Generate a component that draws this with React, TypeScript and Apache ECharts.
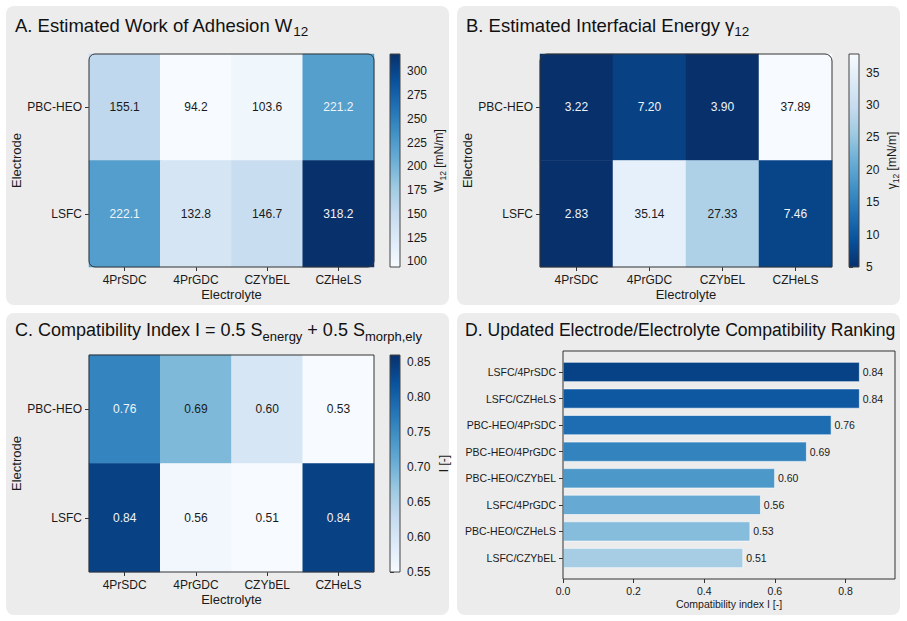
import React, { useEffect, useRef } from 'react';
import * as echarts from 'echarts';

const electrolytes = ['4PrSDC', '4PrGDC', 'CZYbEL', 'CZHeLS'];
const electrodes = ['PBC-HEO', 'LSFC'];
const workAdhesion = [
  [155.1, 94.2, 103.6, 221.2],
  [222.1, 132.8, 146.7, 318.2],
];
const interfacialEnergy = [
  [3.22, 7.2, 3.9, 37.89],
  [2.83, 35.14, 27.33, 7.46],
];
const compatIndex = [
  [0.76, 0.69, 0.6, 0.53],
  [0.84, 0.56, 0.51, 0.84],
];
const rankingPairs = [
  'LSFC/4PrSDC', 'LSFC/CZHeLS', 'PBC-HEO/4PrSDC', 'PBC-HEO/4PrGDC',
  'PBC-HEO/CZYbEL', 'LSFC/4PrGDC', 'PBC-HEO/CZHeLS', 'LSFC/CZYbEL',
];
const rankingValues = [0.84, 0.84, 0.76, 0.69, 0.6, 0.56, 0.53, 0.51];
const workTicks = [100, 125, 150, 175, 200, 225, 250, 275, 300];
const energyTicks = [5, 10, 15, 20, 25, 30, 35];
const indexTicks = [0.55, 0.6, 0.65, 0.7, 0.75, 0.8, 0.85];
const rankingTicks = [0, 0.2, 0.4, 0.6, 0.8];
const workRange = [94.2, 318.2];
const energyRange = [5, 37.89];
const indexRange = [0.55, 0.86];
const rankingMax = 0.94;

const BLUES = ['#f7fbff', '#deebf7', '#c6dbef', '#9ecae1', '#6baed6', '#4292c6', '#2171b5', '#08519c', '#08306b'];
const FONT = '"Liberation Sans", Arial, Helvetica, sans-serif';
const TXT = '#1a1a1a';

function hexToRgb(h: string) {
  const n = parseInt(h.slice(1), 16);
  return [(n >> 16) & 255, (n >> 8) & 255, n & 255];
}
function blues(t: number) {
  t = Math.max(0, Math.min(1, t));
  const p = t * 8;
  const i = Math.min(7, Math.floor(p));
  const f = p - i;
  const a = hexToRgb(BLUES[i]);
  const b = hexToRgb(BLUES[i + 1]);
  const c = a.map((v, k) => Math.round(v + (b[k] - v) * f));
  return `rgb(${c[0]},${c[1]},${c[2]})`;
}

function cells(matrix: number[][], range: number[], reverse: boolean) {
  const out: any[] = [];
  matrix.forEach((row, yi) =>
    row.forEach((v, xi) => {
      let t = (v - range[0]) / (range[1] - range[0]);
      if (reverse) t = 1 - t;
      out.push({ value: [xi, yi, v], label: { color: t > 0.55 ? '#f0f4f8' : TXT } });
    })
  );
  return out;
}

function titleRich(main: number, sub: number) {
  return {
    m: { fontSize: main, lineHeight: 26, color: '#111', fontFamily: FONT, fontWeight: 'normal' },
    s: { fontSize: sub, lineHeight: 14, verticalAlign: 'bottom', color: '#111', fontFamily: FONT, fontWeight: 'normal' },
  };
}
const nameRich = {
  m: { fontSize: 12, lineHeight: 16, color: TXT, fontFamily: FONT },
  s: { fontSize: 8.5, lineHeight: 10, verticalAlign: 'bottom', color: TXT, fontFamily: FONT },
};

const HEAT = [
  { left: 89, top: 54, width: 285, height: 213 },
  { left: 540, top: 54, width: 292, height: 213 },
  { left: 89, top: 355, width: 285, height: 217 },
];
const CBAR = [
  { left: 390, top: 54, width: 10, height: 213 },
  { left: 849, top: 54, width: 10, height: 213 },
  { left: 390, top: 355, width: 10, height: 217 },
];
const BARGRID = { left: 563, top: 358.7, width: 332, height: 212.6 };
const BARFRAME = { x: 563, y: 351, width: 332, height: 228 };

function heatX(i: number) {
  return {
    type: 'category', gridIndex: i, data: electrolytes,
    axisLine: { show: false },
    axisTick: { show: true, alignWithLabel: true, length: 4, lineStyle: { color: '#333' } },
    axisLabel: { fontSize: 12, color: TXT, margin: 7, fontFamily: FONT },
    name: 'Electrolyte', nameLocation: 'middle', nameGap: 21,
    nameTextStyle: { fontSize: 13, color: TXT, fontFamily: FONT },
    splitLine: { show: false },
  };
}
function heatY(i: number) {
  return {
    type: 'category', gridIndex: i, data: electrodes, inverse: true,
    axisLine: { show: false },
    axisTick: { show: true, alignWithLabel: true, length: 4, lineStyle: { color: '#333' } },
    axisLabel: { fontSize: 12, color: TXT, margin: 7, fontFamily: FONT },
    name: 'Electrode', nameLocation: 'middle', nameGap: 56, nameRotate: 90,
    nameTextStyle: { fontSize: 13, color: TXT, fontFamily: FONT },
    splitLine: { show: false },
  };
}
function cbX(i: number) {
  return { type: 'value', gridIndex: i, show: false, min: 0, max: 1 };
}
function cbY(i: number, range: number[], ticks: number[], name: string, digits: number, gap: number) {
  return {
    type: 'value', gridIndex: i, position: 'right', min: range[0], max: range[1],
    axisLine: { show: false },
    axisTick: { show: true, length: 4, customValues: ticks, lineStyle: { color: '#333' } },
    axisLabel: {
      fontSize: 12, color: TXT, margin: 7, fontFamily: FONT, customValues: ticks,
      formatter: (v: number) => v.toFixed(digits),
    },
    splitLine: { show: false },
    name, nameLocation: 'middle', nameGap: gap, nameRotate: 90,
    nameTextStyle: { fontSize: 12, color: TXT, fontFamily: FONT, rich: nameRich },
  };
}

function heatSeries(i: number, matrix: number[][], range: number[], reverse: boolean, digits: number) {
  return {
    type: 'heatmap', xAxisIndex: i, yAxisIndex: i,
    data: cells(matrix, range, reverse),
    label: {
      show: true, fontSize: 12, fontFamily: FONT,
      formatter: (p: any) => (p.value[2] as number).toFixed(digits),
    },
    emphasis: { disabled: true },
  };
}

function gradRect(g: any, reverse: boolean) {
  const stops = BLUES.map((c, k) => ({ offset: k / 8, color: c }));
  return {
    type: 'rect', z: 50,
    shape: { x: g.left, y: g.top, width: g.width, height: g.height },
    style: {
      fill: {
        type: 'linear', x: 0, y: reverse ? 0 : 1, x2: 0, y2: reverse ? 1 : 0,
        colorStops: stops,
      },
      stroke: '#444', lineWidth: 1,
    },
  };
}

export default function App() {
  const ref = useRef<HTMLDivElement>(null);
  useEffect(() => {
    document.body.style.margin = '0';
    const chart = echarts.init(ref.current!, undefined, { renderer: 'svg' });
    const n = rankingValues.length;
    const tStyle = (main: number, sub: number) => ({ fontWeight: 'normal', fontFamily: FONT, rich: titleRich(main, sub) });
    const option: any = {
      animation: false,
      backgroundColor: '#ffffff',
      textStyle: { fontFamily: FONT, color: TXT },
      title: [
        { text: '{m|A. Estimated Work of Adhesion W}{s|12}', left: 15, top: 12.5, padding: 0, textStyle: tStyle(18.5, 13.5) },
        { text: '{m|B. Estimated Interfacial Energy γ}{s|12}', left: 466, top: 12.5, padding: 0, textStyle: tStyle(18.5, 13.5) },
        { text: '{m|C. Compatibility Index I = 0.5 S}{s|energy}{m| + 0.5 S}{s|morph,ely}', left: 15, top: 316.5, padding: 0, textStyle: tStyle(18, 13) },
        { text: '{m|D. Updated Electrode/Electrolyte Compatibility Ranking}', left: 465, top: 317, padding: 0, textStyle: tStyle(17.6, 12) },
      ],
      grid: [...HEAT, ...CBAR, BARGRID].map((g) => ({ ...g, containLabel: false, show: false })),
      xAxis: [
        heatX(0), heatX(1), heatX(2),
        cbX(3), cbX(4), cbX(5),
        {
          type: 'value', gridIndex: 6, min: 0, max: rankingMax, offset: 7.7,
          axisLine: { show: false },
          axisTick: { show: true, length: 4, customValues: rankingTicks, lineStyle: { color: '#333' } },
          axisLabel: {
            fontSize: 10.5, color: TXT, margin: 6, fontFamily: FONT, customValues: rankingTicks,
            formatter: (v: number) => v.toFixed(1),
          },
          splitLine: { show: false },
          name: 'Compatibility index I [-]', nameLocation: 'middle', nameGap: 19,
          nameTextStyle: { fontSize: 10.5, color: TXT, fontFamily: FONT },
        },
      ],
      yAxis: [
        heatY(0), heatY(1), heatY(2),
        cbY(3, workRange, workTicks, '{m|W}{s|12}{m| [mN/m]}', 0, 31),
        cbY(4, energyRange, energyTicks, '{m|γ}{s|12}{m| [mN/m]}', 0, 25),
        cbY(5, indexRange, indexTicks, '{m|I [-]}', 2, 36),
        {
          type: 'category', gridIndex: 6, data: rankingPairs, inverse: true,
          axisLine: { show: false },
          axisTick: { show: true, alignWithLabel: true, length: 4, lineStyle: { color: '#333' } },
          axisLabel: { fontSize: 10.5, color: TXT, margin: 7, fontFamily: FONT },
          splitLine: { show: false },
        },
      ],
      visualMap: [
        { type: 'continuous', show: false, seriesIndex: 0, dimension: 2, min: workRange[0], max: workRange[1], inRange: { color: BLUES } },
        { type: 'continuous', show: false, seriesIndex: 1, dimension: 2, min: energyRange[0], max: energyRange[1], inRange: { color: [...BLUES].reverse() }, outOfRange: { color: BLUES[8] } },
        { type: 'continuous', show: false, seriesIndex: 2, dimension: 2, min: indexRange[0], max: indexRange[1], inRange: { color: BLUES }, outOfRange: { color: BLUES[0] } },
      ],
      series: [
        heatSeries(0, workAdhesion, workRange, false, 1),
        heatSeries(1, interfacialEnergy, energyRange, true, 2),
        heatSeries(2, compatIndex, indexRange, false, 2),
        {
          type: 'bar', xAxisIndex: 6, yAxisIndex: 6, barWidth: '75%',
          data: rankingValues.map((v, i) => ({
            value: v,
            itemStyle: { color: blues(0.93 - (0.58 * i) / (n - 1)), borderColor: '#ffffff', borderWidth: 0.6 },
          })),
          label: {
            show: true, position: 'right', distance: 3, fontSize: 10.5, color: TXT, fontFamily: FONT,
            formatter: (p: any) => (p.value as number).toFixed(2),
          },
          emphasis: { disabled: true },
        },
      ],
      graphic: {
        elements: [
          { type: 'rect', z: -100, shape: { x: 6, y: 6, width: 443, height: 299, r: 8 }, style: { fill: '#ececec' } },
          { type: 'rect', z: -100, shape: { x: 457, y: 6, width: 443, height: 299, r: 8 }, style: { fill: '#ececec' } },
          { type: 'rect', z: -100, shape: { x: 6, y: 313, width: 443, height: 302, r: 8 }, style: { fill: '#ececec' } },
          { type: 'rect', z: -100, shape: { x: 457, y: 313, width: 443, height: 302, r: 8 }, style: { fill: '#ececec' } },
          { type: 'rect', z: 100, shape: { x: HEAT[0].left, y: HEAT[0].top, width: HEAT[0].width, height: HEAT[0].height, r: 6 }, style: { fill: 'none', stroke: '#333', lineWidth: 1 } },
          { type: 'rect', z: 100, shape: { x: HEAT[1].left, y: HEAT[1].top, width: HEAT[1].width, height: HEAT[1].height, r: [7, 7, 0, 0] }, style: { fill: 'none', stroke: '#333', lineWidth: 1 } },
          { type: 'rect', z: 100, shape: { x: HEAT[2].left, y: HEAT[2].top, width: HEAT[2].width, height: HEAT[2].height }, style: { fill: 'none', stroke: '#333', lineWidth: 1 } },
          gradRect(CBAR[0], false),
          gradRect(CBAR[1], true),
          gradRect(CBAR[2], false),
          { type: 'rect', z: 100, shape: { ...BARFRAME }, style: { fill: 'none', stroke: '#333', lineWidth: 1 } },
        ],
      },
    };
    chart.setOption(option);
    return () => chart.dispose();
  }, []);
  return <div ref={ref} style={{ width: 907, height: 621 }} />;
}
